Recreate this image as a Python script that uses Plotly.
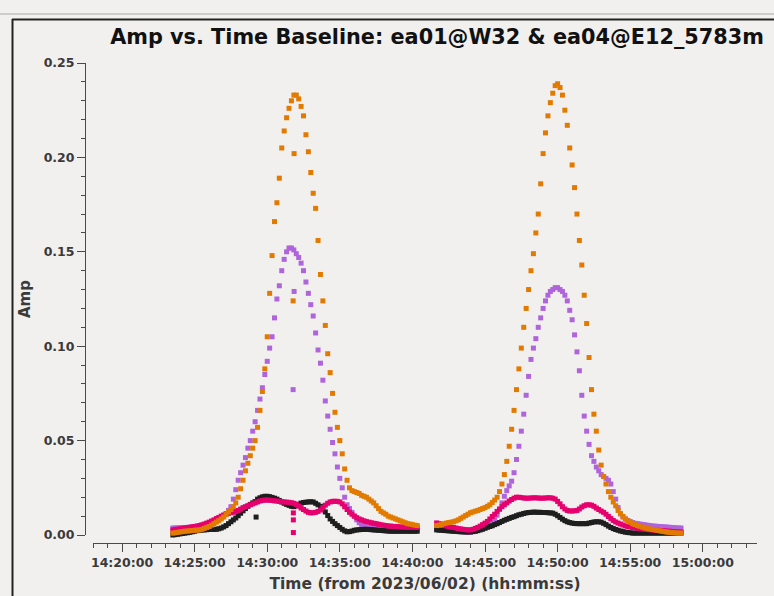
import numpy as np
import pandas as pd
import plotly.graph_objects as go

# ---------------- data ----------------
DATE = "2023-06-02"
SCAN1_START = "14:23:30"   # 10 s sampling
SCAN2_START = "14:41:40"
STEP_S = 10

orange_1 = [0.001, 0.0012, 0.0014, 0.0016, 0.0018, 0.002, 0.0021, 0.0022, 0.0024, 0.0025,
            0.0026, 0.0027, 0.003, 0.0035, 0.004, 0.0045, 0.0052, 0.006, 0.0068, 0.0076,
            0.0085, 0.0095, 0.0108, 0.0122, 0.0135, 0.015, 0.017, 0.020, 0.0245, 0.029,
            0.034, 0.038, 0.042, 0.046, 0.050, 0.057, 0.066, 0.076, 0.088, 0.105,
            0.128, 0.148, 0.166, 0.176, 0.189, 0.205, 0.214, 0.221, 0.226, 0.230,
            0.233, 0.233, 0.231, 0.227, 0.222, 0.212, 0.203, 0.192, 0.181, 0.173,
            0.156, 0.138, 0.124, 0.111, 0.096, 0.086, 0.075, 0.065, 0.057, 0.050,
            0.043, 0.035, 0.029, 0.025, 0.0235, 0.023, 0.0225, 0.022, 0.021, 0.0205,
            0.020, 0.019, 0.018, 0.017, 0.0155, 0.014, 0.0125, 0.0117, 0.011, 0.010,
            0.0095, 0.009, 0.0085, 0.008, 0.0075, 0.007, 0.0065, 0.006, 0.0058, 0.0055,
            0.0052, 0.005]
purple_1 = [0.0037, 0.0037, 0.0038, 0.0038, 0.0039, 0.004, 0.004, 0.0041, 0.0042, 0.0043,
            0.0045, 0.0047, 0.005, 0.0053, 0.0057, 0.0062, 0.0067, 0.0072, 0.0078, 0.0085,
            0.0093, 0.010, 0.0113, 0.013, 0.015, 0.019, 0.024, 0.029, 0.033, 0.037,
            0.041, 0.046, 0.050, 0.055, 0.060, 0.066, 0.072, 0.078, 0.085, 0.092,
            0.099, 0.105, 0.115, 0.125, 0.132, 0.140, 0.146, 0.150, 0.152, 0.152,
            0.151, 0.149, 0.147, 0.144, 0.140, 0.134, 0.128, 0.122, 0.116, 0.107,
            0.098, 0.091, 0.082, 0.071, 0.063, 0.056, 0.049, 0.043, 0.036, 0.030,
            0.025, 0.020, 0.016, 0.014, 0.012, 0.010, 0.008, 0.0065, 0.0055, 0.0048,
            0.0042, 0.004, 0.004, 0.0039, 0.0039, 0.0038, 0.0038, 0.0037, 0.0037, 0.0036,
            0.0036, 0.0036, 0.0035, 0.0035, 0.0035, 0.0035, 0.0035, 0.0035, 0.0035, 0.0035,
            0.0035, 0.0035]
pink_1 = [0.0027, 0.0029, 0.0031, 0.0033, 0.0035, 0.0037, 0.0039, 0.0041, 0.0043, 0.0045,
          0.0048, 0.005, 0.0054, 0.0058, 0.0063, 0.0068, 0.0074, 0.008, 0.0087, 0.0093,
          0.010, 0.0106, 0.0111, 0.0115, 0.0118, 0.012, 0.0125, 0.013, 0.0137, 0.0145,
          0.015, 0.0155, 0.016, 0.0165, 0.017, 0.0175, 0.018, 0.0183, 0.0185, 0.0185,
          0.0184, 0.0183, 0.0181, 0.018, 0.0178, 0.0176, 0.0175, 0.0174, 0.0173, 0.0171,
          0.0168, 0.0162, 0.0153, 0.0143, 0.0135, 0.0127, 0.012, 0.0117, 0.0118, 0.012,
          0.0125, 0.0132, 0.0145, 0.0158, 0.0168, 0.0175, 0.0178, 0.0179, 0.0178, 0.0175,
          0.0165, 0.015, 0.0135, 0.012, 0.011, 0.010, 0.0092, 0.0085, 0.008, 0.0075,
          0.0071, 0.0068, 0.0065, 0.0062, 0.006, 0.0057, 0.0054, 0.0052, 0.005, 0.0048,
          0.0047, 0.0046, 0.0045, 0.0044, 0.0043, 0.0042, 0.0042, 0.0041, 0.0041, 0.004,
          0.004, 0.004]
black_1 = [0.0, 0.0002, 0.0004, 0.0006, 0.0008, 0.001, 0.0012, 0.0014, 0.0017, 0.002,
           0.0023, 0.0025, 0.0026, 0.0027, 0.0028, 0.0029, 0.003, 0.003, 0.003, 0.0033,
           0.0037, 0.0043, 0.005, 0.006, 0.007, 0.008, 0.009, 0.0102, 0.0115, 0.0128,
           0.014, 0.0152, 0.0162, 0.017, 0.0177, 0.019, 0.0197, 0.0202, 0.0205, 0.0205,
           0.0203, 0.0199, 0.0195, 0.019, 0.0183, 0.0175, 0.0168, 0.0162, 0.0157, 0.0152,
           0.015, 0.0155, 0.0163, 0.0169, 0.0172, 0.0174, 0.0175, 0.0176, 0.0175, 0.0168,
           0.016, 0.0152, 0.014, 0.0122, 0.0103, 0.0085, 0.0072, 0.006, 0.005, 0.004,
           0.003, 0.0022, 0.0017, 0.0018, 0.0021, 0.0025, 0.0027, 0.0028, 0.0029, 0.003,
           0.003, 0.0029, 0.0028, 0.0027, 0.0026, 0.0025, 0.0024, 0.0023, 0.0022, 0.0021,
           0.002, 0.002, 0.002, 0.002, 0.002, 0.002, 0.002, 0.002, 0.002, 0.002,
           0.002, 0.002]

orange_2 = [0.005, 0.0052, 0.0055, 0.006, 0.0063, 0.0066, 0.0068, 0.007, 0.0075, 0.008,
            0.0088, 0.0095, 0.0103, 0.011, 0.0118, 0.0122, 0.0126, 0.013, 0.0135, 0.014,
            0.0145, 0.0152, 0.016, 0.0172, 0.0185, 0.020, 0.023, 0.027, 0.032, 0.039,
            0.047, 0.056, 0.066, 0.077, 0.088, 0.099, 0.110, 0.120, 0.130, 0.140,
            0.149, 0.160, 0.170, 0.186, 0.202, 0.213, 0.222, 0.229, 0.234, 0.238,
            0.239, 0.237, 0.233, 0.225, 0.217, 0.205, 0.196, 0.184, 0.170, 0.156,
            0.143, 0.127, 0.112, 0.094, 0.077, 0.064, 0.055, 0.045, 0.037, 0.031,
            0.027, 0.023, 0.020, 0.0175, 0.0155, 0.013, 0.0113, 0.0098, 0.0085, 0.0075,
            0.0068, 0.006, 0.0055, 0.005, 0.0046, 0.0042, 0.0038, 0.0035, 0.0032, 0.003,
            0.0028, 0.0025, 0.0023, 0.002, 0.0018, 0.0016, 0.0014, 0.0013, 0.0012, 0.0011,
            0.001, 0.001]
purple_2 = [0.0037, 0.0036, 0.0035, 0.0033, 0.003, 0.0027, 0.0024, 0.0022, 0.002, 0.0019,
            0.0018, 0.0017, 0.0016, 0.0016, 0.0016, 0.0018, 0.002, 0.0024, 0.0028, 0.0032,
            0.0037, 0.0042, 0.005, 0.0062, 0.008, 0.0105, 0.0135, 0.017, 0.0205, 0.0235,
            0.026, 0.0285, 0.033, 0.040, 0.047, 0.055, 0.064, 0.074, 0.084, 0.093,
            0.099, 0.104, 0.110, 0.115, 0.120, 0.124, 0.127, 0.129, 0.130, 0.131,
            0.131, 0.130, 0.129, 0.127, 0.124, 0.119, 0.114, 0.106, 0.097, 0.087,
            0.074, 0.063, 0.055, 0.048, 0.042, 0.039, 0.036, 0.034, 0.032, 0.031,
            0.030, 0.029, 0.027, 0.023, 0.019, 0.0145, 0.0112, 0.0095, 0.0085, 0.0077,
            0.0071, 0.0066, 0.0062, 0.006, 0.0058, 0.0056, 0.0054, 0.0052, 0.005, 0.0048,
            0.0047, 0.0046, 0.0045, 0.0044, 0.0043, 0.0042, 0.0041, 0.004, 0.0039, 0.0038,
            0.0037, 0.0037]
pink_2 = [0.0064, 0.006, 0.0056, 0.0052, 0.0048, 0.0044, 0.0041, 0.004, 0.0037, 0.0034,
          0.0032, 0.003, 0.0028, 0.0027, 0.0027, 0.003, 0.0035, 0.004, 0.0047, 0.0055,
          0.0063, 0.0072, 0.0085, 0.0098, 0.011, 0.0125, 0.0138, 0.015, 0.016, 0.017,
          0.018, 0.0188, 0.0195, 0.020, 0.020, 0.0198, 0.0196, 0.0195, 0.0195, 0.0196,
          0.0197, 0.0197, 0.0196, 0.0195, 0.0195, 0.0196, 0.0197, 0.0197, 0.0195, 0.019,
          0.0178, 0.0165, 0.015, 0.0138, 0.013, 0.0127, 0.0127, 0.0128, 0.013, 0.0138,
          0.0148, 0.0155, 0.016, 0.016, 0.0158, 0.0152, 0.0143, 0.0135, 0.0127, 0.012,
          0.011, 0.0098, 0.0087, 0.0077, 0.0069, 0.0063, 0.0058, 0.0053, 0.0048, 0.0045,
          0.0042, 0.004, 0.0038, 0.0036, 0.0034, 0.0032, 0.003, 0.0029, 0.0028, 0.0027,
          0.0026, 0.0025, 0.0024, 0.0023, 0.0022, 0.0021, 0.002, 0.0019, 0.0018, 0.0017,
          0.0016, 0.0016]
black_2 = [0.0027, 0.0026, 0.0025, 0.0024, 0.0023, 0.0022, 0.0021, 0.002, 0.0019, 0.0018,
           0.0017, 0.0017, 0.0016, 0.0016, 0.0016, 0.0018, 0.002, 0.0023, 0.0027, 0.0031,
           0.0036, 0.0041, 0.0045, 0.0049, 0.0055, 0.006, 0.0066, 0.0072, 0.0078, 0.0083,
           0.0088, 0.0093, 0.0097, 0.0102, 0.0107, 0.011, 0.0114, 0.0117, 0.0119, 0.012,
           0.0121, 0.0121, 0.012, 0.012, 0.0119, 0.0119, 0.0118, 0.0117, 0.0116, 0.011,
           0.0102, 0.0093, 0.0084, 0.0076, 0.007, 0.0066, 0.0063, 0.0061, 0.006, 0.006,
           0.006, 0.006, 0.006, 0.0063, 0.0066, 0.0069, 0.007, 0.007, 0.0068, 0.0062,
           0.0055, 0.0047, 0.004, 0.0034, 0.0029, 0.0025, 0.0021, 0.0018, 0.0015, 0.0013,
           0.0012, 0.001, 0.001, 0.001, 0.001, 0.001, 0.001, 0.001, 0.001, 0.001,
           0.001, 0.001, 0.001, 0.001, 0.001, 0.001, 0.001, 0.001, 0.001, 0.001,
           0.001, 0.001]

# isolated outlier points
orange_out_t = ["14:31:47", "14:31:51"]
orange_out_v = [0.124, 0.202]
purple_out_t = ["14:31:51", "14:31:47"]
purple_out_v = [0.129, 0.077]
pink_out_t = ["14:31:48", "14:31:48", "14:31:48"]
pink_out_v = [0.0117, 0.008, 0.0013]
black_out_t = ["14:29:14"]
black_out_v = [0.0095]

COLORS = {"orange": "#e27a00", "purple": "#b064dc", "pink": "#e6006e", "black": "#1e1e1e"}

TITLE = "Amp vs. Time Baseline: ea01@W32 &amp; ea04@E12_5783m"
XTITLE = "Time (from 2023/06/02) (hh:mm:ss)"
YTITLE = "Amp"
X_RANGE = ["14:18:00", "15:03:44"]
Y_RANGE = [0.0, 0.25]


def times(start, n):
    t0 = pd.Timestamp(f"{DATE} {start}")
    return t0 + pd.to_timedelta(np.arange(n) * STEP_S, unit="s")


def stamp(lst):
    return [pd.Timestamp(f"{DATE} {s}") for s in lst]


series = [
    ("purple", purple_1, purple_2, purple_out_t, purple_out_v),
    ("black", black_1, black_2, black_out_t, black_out_v),
    ("pink", pink_1, pink_2, pink_out_t, pink_out_v),
    ("orange", orange_1, orange_2, orange_out_t, orange_out_v),
]

fig = go.Figure()
for name, v1, v2, ot, ov in series:
    x = list(times(SCAN1_START, len(v1))) + list(times(SCAN2_START, len(v2))) + stamp(ot)
    y = list(v1) + list(v2) + list(ov)
    fig.add_trace(go.Scatter(
        x=x, y=y, mode="markers", name=name, cliponaxis=False,
        marker=dict(symbol="square", size=5, color=COLORS[name], line=dict(width=0)),
        showlegend=False,
    ))

BG = "#f1f0ef"
AX = "#4a4a4a"
TXT = "#3a3a3a"
FONT = "DejaVu Sans"

# plot-area geometry (px)
L, R, T, B = 85, 17, 63, 53
PW, PH = 774 - L - R, 596 - T - B


def px(xp):
    return (xp - L) / PW


def py(yp):
    return (596 - B - yp) / PH


fig.update_layout(
    width=774, height=596,
    margin=dict(l=L, r=R, t=T, b=B, autoexpand=False),
    paper_bgcolor=BG, plot_bgcolor=BG,
    title=dict(text=f"<b>{TITLE}</b>", xref="container", yref="container",
               x=437 / 774, y=1 - 37 / 596, xanchor="center", yanchor="middle",
               font=dict(family=FONT, size=20.8, color="#111111")),
    xaxis=dict(
        type="date", range=[f"{DATE} {X_RANGE[0]}", f"{DATE} {X_RANGE[1]}"],
        domain=[px(93), 1], anchor="free", position=0, automargin=False,
        showgrid=False, zeroline=False, showline=True, linecolor=AX, linewidth=1,
        ticks="outside", ticklen=8, tickcolor=AX, tickwidth=1,
        dtick=300000, tick0=f"{DATE} 14:00:00", tickformat="%H:%M:%S",
        tickfont=dict(family=FONT, size=12.5, color=TXT, weight="bold"),
        minor=dict(dtick=60000, ticks="outside", ticklen=4, tickcolor=AX, showgrid=False),
        title=dict(text=XTITLE, standoff=9,
                   font=dict(family=FONT, size=15.5, color="#3a3a3a", weight="bold")),
    ),
    yaxis=dict(
        range=Y_RANGE, domain=[py(535), 1], anchor="free", position=0, automargin=False,
        showgrid=False, zeroline=False, showline=True, linecolor=AX, linewidth=1,
        ticks="outside", ticklen=8, tickcolor=AX, tickwidth=1,
        dtick=0.05, tickformat=".2f",
        tickfont=dict(family=FONT, size=12.5, color=TXT, weight="bold"),
        minor=dict(dtick=0.01, ticks="outside", ticklen=4, tickcolor=AX, showgrid=False),
        title=dict(text=YTITLE, standoff=8,
                   font=dict(family=FONT, size=15, color="#3a3a3a", weight="bold")),
    ),
    shapes=[
        dict(type="line", xref="paper", yref="paper", x0=px(0), x1=px(774), y0=py(14), y1=py(14),
             line=dict(color="#a8a8a8", width=1)),
        dict(type="line", xref="paper", yref="paper", x0=px(12), x1=px(774), y0=py(19.5), y1=py(19.5),
             line=dict(color="#222222", width=2)),
        dict(type="line", xref="paper", yref="paper", x0=px(12.5), x1=px(12.5), y0=py(19), y1=py(600),
             line=dict(color="#222222", width=2)),
    ],
)

fig.write_html("out.html")
